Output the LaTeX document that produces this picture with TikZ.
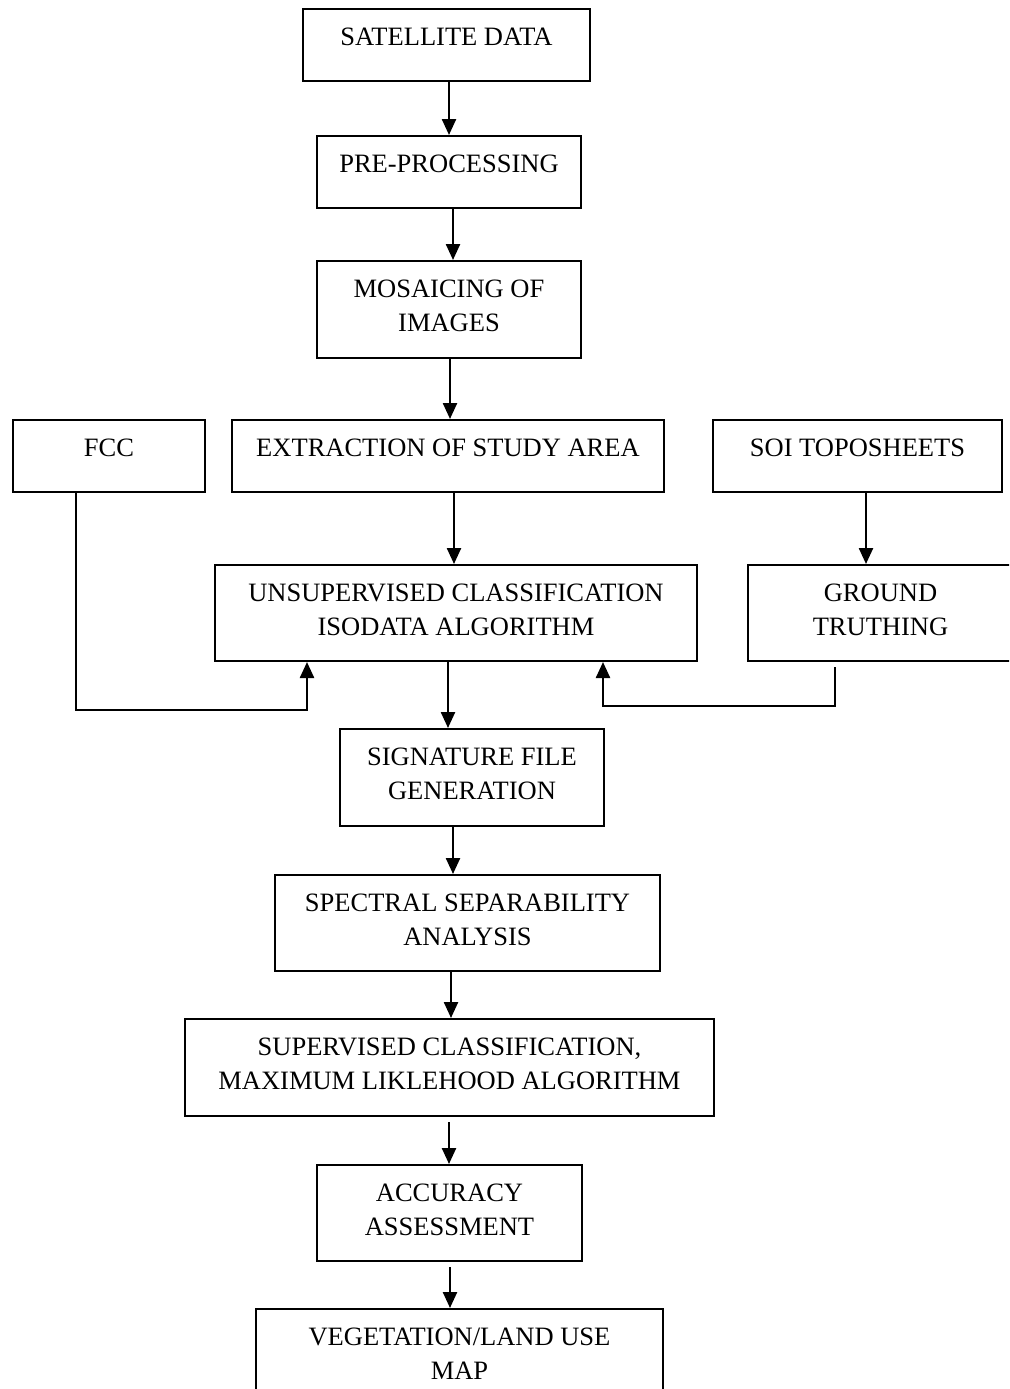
\documentclass[tikz,border=0pt]{standalone}
\usepackage{fontspec}
\setmainfont{Liberation Serif}
\usetikzlibrary{arrows.meta}
\newlength{\px}
\setlength{\px}{0.5pt}
\newcommand{\stagetext}[3]{\parbox[c][#2\px][t]{#1\px}{\centering\rule{0pt}{18pt}#3}}
\tikzset{
	stage/.style={rectangle,draw=black,line width=1pt,inner sep=0pt,anchor=north west,font=\fontsize{13.25}{17}\selectfont},
	flow/.style={-{Triangle[width=7pt,length=8pt]},line width=1.2pt}
}

\begin{document}
\begin{tikzpicture}[x=0.5pt,y=-0.5pt]
\useasboundingbox (0,0) rectangle (1009,1389);
\clip (0,0) rectangle (1009,1389);
% main chain
\node[stage] (Sat) at (302,8) {\stagetext{287}{72}{SATELLITE DATA}};
\node[stage] (Pre) at (316,135) {\stagetext{264}{72}{PRE-PROCESSING}};
\node[stage] (Mosaic) at (316,260) {\stagetext{264}{97}{MOSAICING OF\\IMAGES}};
\node[stage] (FCC) at (12,419) {\stagetext{192}{72}{FCC}};
\node[stage] (Extract) at (231,419) {\stagetext{432}{72}{EXTRACTION OF STUDY AREA}};
\node[stage] (SOI) at (712,419) {\stagetext{289}{72}{SOI TOPOSHEETS}};
\node[stage] (Unsup) at (214,564) {\stagetext{482}{96}{UNSUPERVISED CLASSIFICATION\\ISODATA ALGORITHM}};
\node[stage] (Ground) at (747,564) {\stagetext{265}{96}{GROUND\\TRUTHING}};
\node[stage] (Sig) at (339,728) {\stagetext{264}{97}{SIGNATURE FILE\\GENERATION}};
\node[stage] (Spectral) at (274,874) {\stagetext{385}{96}{SPECTRAL SEPARABILITY\\ANALYSIS}};
\node[stage] (Sup) at (184,1018) {\stagetext{529}{97}{SUPERVISED CLASSIFICATION,\\MAXIMUM LIKLEHOOD ALGORITHM}};
\node[stage] (Accuracy) at (316,1164) {\stagetext{265}{96}{ACCURACY\\ASSESSMENT}};
\node[stage] (Veg) at (255,1308) {\stagetext{407}{97}{VEGETATION/LAND USE\\MAP}};
% arrows
\draw[flow] (Sat.south -| 449,0) -- (Pre.north -| 449,0);
\draw[flow] (Pre.south -| 453,0) -- (Mosaic.north -| 453,0);
\draw[flow] (Mosaic.south -| 450,0) -- (Extract.north -| 450,0);
\draw[flow] (Extract.south -| 454,0) -- (Unsup.north -| 454,0);
\draw[flow] (SOI.south -| 866,0) -- (Ground.north -| 866,0);
\draw[flow] (FCC.south -| 76,0) -- ++(0,217) -| (Unsup.south -| 307,0);
\draw[flow,shorten <=2.5pt] (Ground.south -| 835,0) -- ++(0,44) -| (Unsup.south -| 603,0);
\draw[flow] (Unsup.south -| 448,0) -- (Sig.north -| 448,0);
\draw[flow] (Sig.south -| 453,0) -- (Spectral.north -| 453,0);
\draw[flow] (Spectral.south -| 451,0) -- (Sup.north -| 451,0);
\draw[flow,shorten <=2.5pt] (Sup.south -| 449,0) -- (Accuracy.north -| 449,0);
\draw[flow,shorten <=2.5pt] (Accuracy.south -| 450,0) -- (Veg.north -| 450,0);
\end{tikzpicture}
\end{document}
